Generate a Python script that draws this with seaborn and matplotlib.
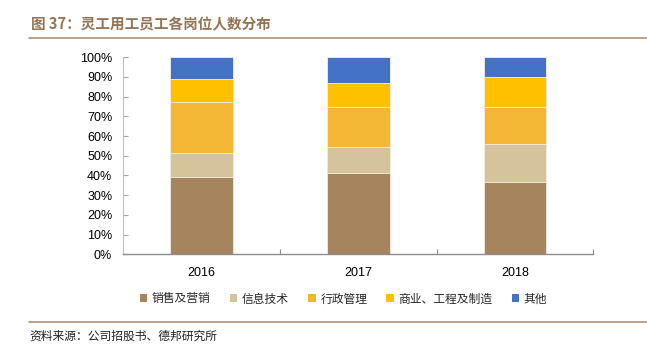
import matplotlib
matplotlib.use("Agg")
import matplotlib.pyplot as plt
import seaborn as sns
import pandas as pd
import numpy as np
from matplotlib.lines import Line2D
from matplotlib.patches import Patch
from matplotlib.ticker import FixedLocator, PercentFormatter

years = ["2016", "2017", "2018"]
categories = ["销售及营销", "信息技术", "行政管理", "商业、工程及制造", "其他"]
sales = [39.1, 41.4, 36.7]
it = [12.2, 12.9, 19.1]
admin = [25.9, 20.6, 18.8]
business = [11.9, 12.2, 15.4]
other = [10.9, 12.9, 10.0]
colors = ["#A6845E", "#D5C39C", "#F3B735", "#FFC000", "#4472C4"]

sns.set_theme(style="white")
plt.rcParams["font.family"] = ["Liberation Sans", "Noto Sans CJK SC", "DejaVu Sans"]

series = [sales, it, admin, business, other]
df = pd.DataFrame({"year": years})
cum = np.zeros(len(years))
for name, vals in zip(categories, series):
    cum = cum + np.array(vals)
    df[name] = cum

fig = plt.figure(figsize=(6.47, 3.57), dpi=100)
ax = fig.add_axes([0.1906, 0.2877, 0.7264, 0.5518])

for name, col in reversed(list(zip(categories, colors))):
    sns.barplot(data=df, x="year", y=name, color=col, width=0.4, ax=ax,
                saturation=1, edgecolor="#F5EFE6", linewidth=0.6)

ax.set_xlim(-0.5, 2.5)
ax.set_ylim(0, 100)
ax.set_xlabel("")
ax.set_ylabel("")
ax.yaxis.set_major_locator(FixedLocator(np.arange(0, 101, 10)))
ax.yaxis.set_major_formatter(PercentFormatter(decimals=0))
ax.xaxis.set_minor_locator(FixedLocator([0.5, 1.5, 2.5]))
ax.tick_params(axis="y", which="major", direction="in", length=3.5, width=0.8,
               color="#A6A6A6", left=True, labelsize=9, pad=8, labelcolor="#000000")
ax.tick_params(axis="x", which="major", length=0, labelsize=9, pad=9, labelcolor="#000000")
ax.tick_params(axis="x", which="minor", direction="in", length=3.5, width=0.8,
               color="#8C8C8C", bottom=True)
for s in ["top", "right"]:
    ax.spines[s].set_visible(False)
ax.spines["left"].set_color("#BFBFBF")
ax.spines["left"].set_linewidth(0.8)
ax.spines["bottom"].set_color("#8C8C8C")
ax.spines["bottom"].set_linewidth(1.0)

handles = [Patch(facecolor=c, edgecolor="none") for c in colors]
fig.legend(handles, categories, loc="center", bbox_to_anchor=(0.531, 0.1625),
           ncol=5, frameon=False, handlelength=0.65, handleheight=0.65,
           handletextpad=0.4, columnspacing=1.6,
           prop={"family": ["Noto Sans CJK SC"], "size": 8.5})

fig.text(0.048, 0.933, "图 37：灵工用工员工各岗位人数分布", fontsize=10.5, fontweight="bold",
         color="#957455", family=["Noto Sans CJK SC"], va="center", ha="left")
fig.add_artist(Line2D([0.0448, 1.0], [0.8927, 0.8927], color="#B89A7E", linewidth=1.3,
                      transform=fig.transFigure))
fig.add_artist(Line2D([0.0448, 1.0], [0.0989, 0.0989], color="#B89A7E", linewidth=1.3,
                      transform=fig.transFigure))
fig.text(0.046, 0.0597, "资料来源：公司招股书、德邦研究所", fontsize=8.5,
         color="#222222", family=["Noto Sans CJK SC"], va="center", ha="left")

fig.savefig("out.png", dpi=100)
